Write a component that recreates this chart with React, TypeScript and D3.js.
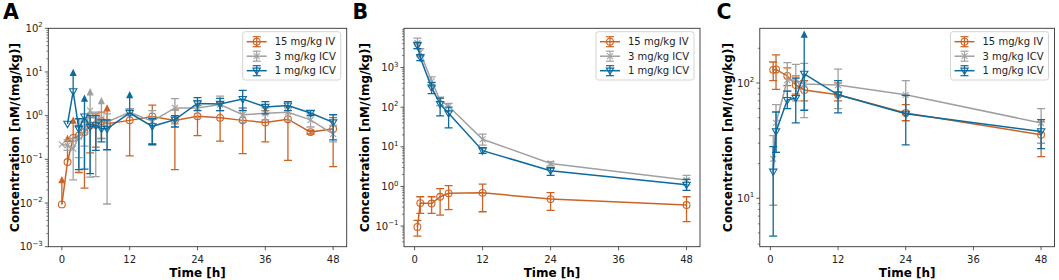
import React from 'react';
import * as d3 from 'd3';

// ---------- shared legend / style data ----------
const seriesNames = ['15 mg/kg IV', '3 mg/kg ICV', '1 mg/kg ICV'];
const seriesColors = ['#CC6324', '#A0A0A0', '#0B6A9E'];
const seriesMarkers = ['o', 'x', 'v'];
const xTicks = [0, 12, 24, 36, 48];

// ---------- Panel A ----------
const timesA = [0, 1, 2, 3, 4, 5, 6, 7, 8, 12, 16, 20, 24, 28, 32, 36, 40, 44, 48];
const ivMeanA = [0.0093, 0.087, 0.31, 0.35, 0.42, 0.6, 0.62, 0.75, 0.65, 0.78, 0.96, 0.78, 0.97, 0.89, 0.78, 0.7, 0.83, 0.42, 0.5];
const ivLowA = [0.0093, 0.087, 0.31, 0.05, 0.022, 0.14, 0.19, 0.3, 0.65, 0.12, 0.23, 0.058, 0.35, 0.26, 0.135, 0.25, 0.095, 0.38, 0.068];
const ivHighA = [0.034, 0.3, 0.78, 0.6, 0.75, 0.9, 1.1, 1.2, 1.5, 1.45, 1.75, 1.35, 1.7, 2.0, 1.5, 1.3, 1.5, 0.46, 0.9];
const ivArrowTimesA = [0, 1, 2, 8];

const icv3MeanA = [0.22, 0.21, 0.175, 0.33, 0.45, 1.3, 0.8, 0.85, 0.72, 1.2, 0.75, 1.5, 1.5, 1.8, 1.05, 1.13, 1.2, 0.8, 0.38];
const icv3LowA = [0.22, 0.16, 0.034, 0.11, 0.2, 0.039, 0.04, 0.3, 0.0095, 1.0, 0.21, 0.65, 0.9, 1.3, 0.7, 0.8, 0.75, 0.55, 0.25];
const icv3HighA = [0.22, 0.28, 0.3, 0.55, 0.7, 3.5, 1.2, 2.2, 1.1, 1.45, 1.3, 2.45, 2.2, 2.8, 1.45, 1.5, 1.6, 1.1, 0.6];
const icv3ArrowTimesA = [5, 7];

const icv1MeanA = [NaN, 0.65, 3.6, 0.5, 0.95, 0.55, 0.6, 0.5, 0.5, 1.15, 0.57, 0.81, 1.9, 1.85, 2.4, 1.58, 1.7, 1.15, 0.7];
const icv1LowA = [NaN, 0.65, 3.6, 0.058, 0.06, 0.047, 0.16, 0.25, 0.166, 1.15, 0.22, 0.55, 1.3, 1.3, 1.3, 1.1, 1.3, 1.0, 0.28];
const icv1HighA = [NaN, 0.65, 9.7, 0.85, 2.5, 1.0, 1.0, 0.8, 0.8, 3.0, 0.85, 1.0, 2.6, 2.5, 3.8, 2.1, 2.1, 1.3, 1.05];
const icv1ArrowTimesA = [2, 4, 12];

// ---------- Panel B ----------
const timesB = [0.5, 1, 3, 4.5, 6, 12, 24, 48];
const ivMeanB = [0.095, 0.38, 0.37, 0.55, 0.67, 0.69, 0.48, 0.34];
const ivLowB = [0.056, 0.21, 0.21, 0.19, 0.26, 0.23, 0.25, 0.13];
const ivHighB = [0.14, 0.55, 0.55, 0.88, 1.05, 1.15, 0.7, 0.55];
const icv3MeanB = [4100, 2400, 450, 150, 105, 15.5, 3.8, 1.45];
const icv3LowB = [3000, 1900, 330, 110, 80, 11, 3.3, 1.1];
const icv3HighB = [5500, 3000, 580, 180, 125, 21, 4.2, 1.9];
const icv1MeanB = [3600, 1800, 310, 120, 70, 8.0, 2.5, 1.1];
const icv1LowB = [3000, 1500, 220, 60, 30, 6.8, 1.9, 0.8];
const icv1HighB = [4300, 2100, 420, 170, 100, 9.5, 3.0, 1.5];

// ---------- Panel C ----------
const timesC = [0.5, 1, 3, 4.5, 6, 12, 24, 48];
const ivMeanC = [130, 131, 115, 96, 87, 79, 55, 35.5];
const ivLowC = [105, 88, 95, 80, 70, 70, 47, 23];
const ivHighC = [152, 175, 135, 115, 105, 100, 65, 46];
const icv3MeanC = [22, 45, 106, 106, 98, 96, 79, 45];
const icv3LowC = [8.7, 25, 85, 70, 50, 60, 55, 30];
const icv3HighC = [35, 65, 150, 145, 148, 132, 105, 60];
const icv1MeanC = [17, 38, 71, 74, 120, 79, 54, 38];
const icv1LowC = [4.7, 25, 60, 45, 58, 55, 29, 27];
const icv1HighC = [28, 56, 85, 110, 265, 105, 78, 48];
const icv1ArrowTimesC = [6];

type Series = {
  name: string; color: string; marker: string;
  times: number[]; mean: number[]; low: number[]; high: number[]; arrows: number[];
};

function mk(i: number, times: number[], mean: number[], low: number[], high: number[], arrows: number[] = []): Series {
  return { name: seriesNames[i], color: seriesColors[i], marker: seriesMarkers[i], times, mean, low, high, arrows };
}

const FONT = 'DejaVu Sans, Verdana, sans-serif';
const TOP = 28.3;
const BOTTOM = 246.7;

function Marker({ type, x, y, color }: { type: string; x: number; y: number; color: string }) {
  if (type === 'o') return <circle cx={x} cy={y} r={3.4} fill="none" stroke={color} strokeWidth={1.1} />;
  if (type === 'x') {
    const s = 3;
    return (
      <g stroke={color} strokeWidth={1.1}>
        <line x1={x - s} y1={y - s} x2={x + s} y2={y + s} />
        <line x1={x - s} y1={y + s} x2={x + s} y2={y - s} />
      </g>
    );
  }
  const w = 3.7;
  return <path d={`M${x - w},${y - 2.6}L${x + w},${y - 2.6}L${x},${y + 3.8}Z`} fill="none" stroke={color} strokeWidth={1.1} />;
}

function supLabel(e: number) {
  return e < 0 ? '\u2212' + Math.abs(e) : String(e);
}

type PanelProps = {
  id: string; letter: string; letterX: number; left: number; right: number;
  xDomain: [number, number]; yDomain: [number, number]; yExps: number[]; yLabelX: number;
  series: Series[];
};

function Panel(p: PanelProps) {
  const x = d3.scaleLinear().domain(p.xDomain).range([p.left, p.right]);
  const y = d3.scaleLog().domain(p.yDomain).range([BOTTOM, TOP]);
  const lo = Math.floor(Math.log10(p.yDomain[0]));
  const hi = Math.ceil(Math.log10(p.yDomain[1]));
  const minors: number[] = [];
  for (let e = lo; e <= hi; e++) {
    for (let k = 2; k <= 9; k++) {
      const v = k * Math.pow(10, e);
      if (v >= p.yDomain[0] && v <= p.yDomain[1]) minors.push(v);
    }
  }
  const capW = 4;
  const clipId = `clip-${p.id}`;
  const legX = p.right - 104;
  const legY = 31.7;
  return (
    <g fontFamily={FONT}>
      <defs>
        <clipPath id={clipId}>
          <rect x={p.left} y={TOP - 12} width={p.right - p.left} height={BOTTOM - TOP + 12} />
        </clipPath>
      </defs>
      <text x={p.letterX} y={18.5} fontSize={20.5} fontWeight="bold" fill="#000">{p.letter}</text>
      {/* data */}
      <g clipPath={`url(#${clipId})`}>
        {p.series.map((s, si) => {
          const pts = s.times.map((t, i) => ({ t, m: s.mean[i], l: s.low[i], h: s.high[i] })).filter(d => !isNaN(d.m));
          const line = d3.line<any>().x(d => x(d.t)).y(d => y(d.m));
          return (
            <g key={si}>
              <path d={line(pts) || ''} fill="none" stroke={s.color} strokeWidth={1.5} />
              {pts.map((d, i) => {
                const arrow = s.arrows.includes(d.t);
                const cx = x(d.t);
                const yl = y(d.l), yh = y(d.h);
                const hasBar = d.h !== d.l;
                return (
                  <g key={i} stroke={s.color} strokeWidth={1.3}>
                    {hasBar && <line x1={cx} x2={cx} y1={yl} y2={yh} />}
                    {hasBar && !(arrow && d.l === d.m) && <line x1={cx - capW} x2={cx + capW} y1={yl} y2={yl} />}
                    {arrow ? (
                      <path d={`M${cx - 3.6},${yh + 3.5}L${cx + 3.6},${yh + 3.5}L${cx},${yh - 3.8}Z`} fill={s.color} stroke="none" />
                    ) : (hasBar ? <line x1={cx - capW} x2={cx + capW} y1={yh} y2={yh} /> : null)}
                  </g>
                );
              })}
              {pts.map((d, i) => <Marker key={'m' + i} type={s.marker} x={x(d.t)} y={y(d.m)} color={s.color} />)}
            </g>
          );
        })}
      </g>
      {/* frame */}
      <rect x={p.left} y={TOP} width={p.right - p.left} height={BOTTOM - TOP} fill="none" stroke="#333" strokeWidth={0.9} />
      {/* x ticks */}
      {xTicks.map(t => (
        <g key={t}>
          <line x1={x(t)} x2={x(t)} y1={BOTTOM} y2={BOTTOM + 3.5} stroke="#333" strokeWidth={0.8} />
          <text x={x(t)} y={263} fontSize={10} textAnchor="middle" fill="#222">{t}</text>
        </g>
      ))}
      {/* y ticks */}
      {p.yExps.map(e => (
        <g key={e}>
          <line x1={p.left - 3.5} x2={p.left} y1={y(Math.pow(10, e))} y2={y(Math.pow(10, e))} stroke="#333" strokeWidth={0.8} />
          <text x={p.left - 5.5} y={y(Math.pow(10, e)) + 3.6} fontSize={10} textAnchor="end" fill="#222">
            10<tspan dy={-4.5} fontSize={7}>{supLabel(e)}</tspan>
          </text>
        </g>
      ))}
      {minors.map((v, i) => (
        <line key={i} x1={p.left - 2} x2={p.left} y1={y(v)} y2={y(v)} stroke="#333" strokeWidth={0.6} />
      ))}
      {/* axis labels */}
      <text x={(p.left + p.right) / 2} y={276.5} fontSize={12} fontWeight="bold" textAnchor="middle" fill="#000">Time [h]</text>
      <text transform={`translate(${p.yLabelX},${(TOP + BOTTOM) / 2}) rotate(-90)`} fontSize={12} fontWeight="bold" textAnchor="middle" dominantBaseline="middle" fill="#000">
        Concentration [nM/(mg/kg)]
      </text>
      {/* legend */}
      <g>
        <rect x={legX} y={legY} width={98} height={48.3} rx={2.5} fill="#fff" fillOpacity={0.85} stroke="#cfcfcf" strokeWidth={0.9} />
        {p.series.map((s, i) => {
          const ry = legY + 10 + i * 14.5;
          const hx = legX + 14;
          return (
            <g key={i}>
              <line x1={legX + 4} x2={legX + 24} y1={ry} y2={ry} stroke={s.color} strokeWidth={1.5} />
              <g stroke={s.color} strokeWidth={1.2}>
                <line x1={hx} x2={hx} y1={ry - 5} y2={ry + 5} />
                <line x1={hx - 4} x2={hx + 4} y1={ry - 5} y2={ry - 5} />
                <line x1={hx - 4} x2={hx + 4} y1={ry + 5} y2={ry + 5} />
              </g>
              <Marker type={s.marker} x={hx} y={ry} color={s.color} />
              <text x={legX + 32} y={ry + 3.6} fontSize={10} fill="#222">{s.name}</text>
            </g>
          );
        })}
      </g>
    </g>
  );
}

export default function App() {
  const seriesA = [
    mk(0, timesA, ivMeanA, ivLowA, ivHighA, ivArrowTimesA),
    mk(1, timesA, icv3MeanA, icv3LowA, icv3HighA, icv3ArrowTimesA),
    mk(2, timesA, icv1MeanA, icv1LowA, icv1HighA, icv1ArrowTimesA),
  ];
  const seriesB = [
    mk(0, timesB, ivMeanB, ivLowB, ivHighB),
    mk(1, timesB, icv3MeanB, icv3LowB, icv3HighB),
    mk(2, timesB, icv1MeanB, icv1LowB, icv1HighB),
  ];
  const seriesC = [
    mk(0, timesC, ivMeanC, ivLowC, ivHighC),
    mk(1, timesC, icv3MeanC, icv3LowC, icv3HighC),
    mk(2, timesC, icv1MeanC, icv1LowC, icv1HighC, icv1ArrowTimesC),
  ];
  return (
    <svg width={1059} height={280} style={{ position: 'absolute', left: 0, top: 0, background: '#fff' }}>
      <rect width={1059} height={280} fill="#fff" />
      <Panel id="a" letter="A" letterX={3} left={48.3} right={346.7} xDomain={[-2.4, 50.4]}
        yDomain={[1e-3, 1e2]} yExps={[-3, -2, -1, 0, 1, 2]} yLabelX={15} series={seriesA} />
      <Panel id="b" letter="B" letterX={352.5} left={404} right={700} xDomain={[-1.875, 50.375]}
        yDomain={[0.0302, 9770]} yExps={[-1, 0, 1, 2, 3]} yLabelX={365} series={seriesB} />
      <Panel id="c" letter="C" letterX={716.5} left={759.8} right={1054.5} xDomain={[-1.875, 50.375]}
        yDomain={[3.8, 298]} yExps={[1, 2]} yLabelX={728.5} series={seriesC} />
    </svg>
  );
}
